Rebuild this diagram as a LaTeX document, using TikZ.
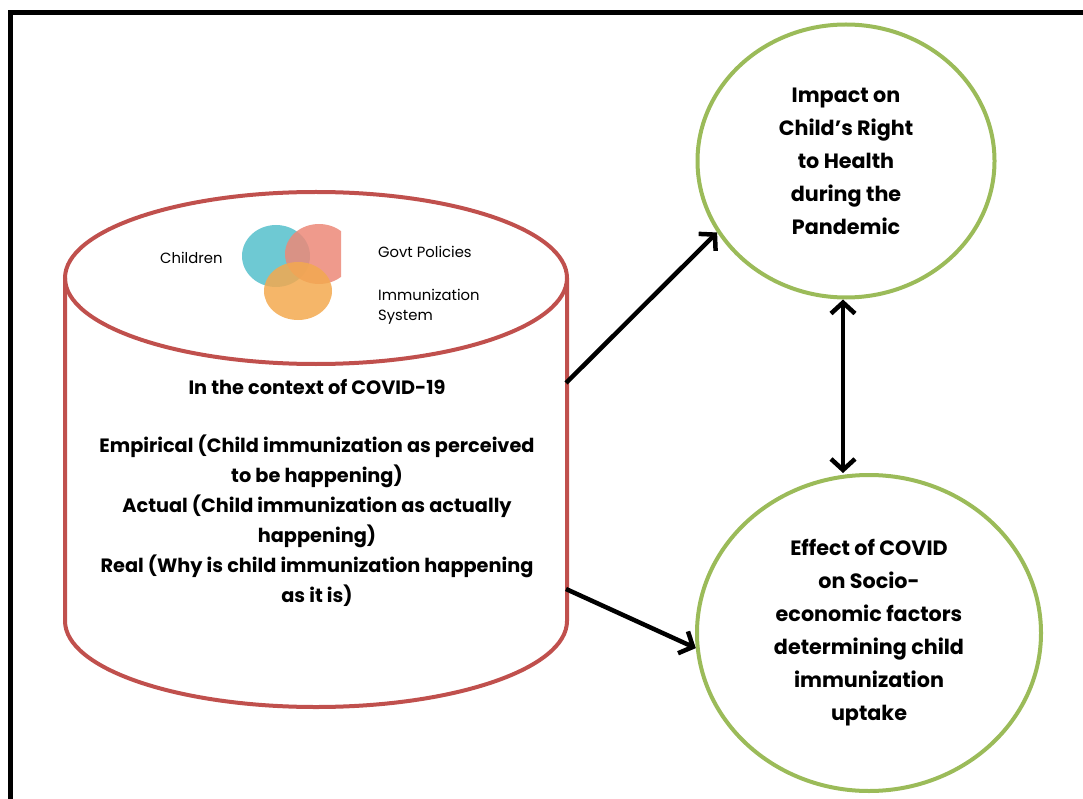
\documentclass[tikz,border=0pt]{standalone}
\usepackage{fontspec}
\setmainfont{Poppins}
\usetikzlibrary{arrows.meta,shapes.geometric}
\definecolor{cylred}{HTML}{C0504D}
\definecolor{ringgreen}{HTML}{9BBB59}
\definecolor{vteal}{HTML}{55BFCB}
\definecolor{vsalmon}{HTML}{EC8878}
\definecolor{vorange}{HTML}{F3A94F}
\tikzset{
  cylline/.style={draw=cylred, line width=4pt},
  ring/.style={ellipse, draw=ringgreen, line width=4pt, inner sep=0pt, align=center,
    font=\bfseries\fontsize{20.7}{33}\selectfont},
  arr/.style={line width=4.5pt, -{Straight Barb[length=11pt,width=24pt]}},
  dblarr/.style={line width=4.5pt, {Straight Barb[length=11pt,width=24pt]}-{Straight Barb[length=11pt,width=24pt]}},
  vennlabel/.style={anchor=west, inner sep=0pt, align=left,
    font=\fontsize{14.8}{20}\selectfont},
}
\begin{document}
\begin{tikzpicture}[x=1pt, y=-1pt]
\useasboundingbox (0,0) rectangle (1083,799);

% outer frame (open to the right and bottom)
\draw[line width=5pt, line join=miter] (10,799) -- (10,12.5) -- (1083,12.5);

% cylinder
\draw[cylline] (65,278) -- (65,621)
  arc[start angle=180, end angle=0, x radius=251, y radius=86] -- (567,278);
\draw[cylline] (316,278) ellipse [x radius=251, y radius=86];
\coordinate (cylA) at (566,383);
\coordinate (cylB) at (566,589);

% Venn diagram on the cylinder lid
\begin{scope}
  \clip (230,215) rectangle (341,330);
  \fill[vteal, opacity=0.85] (276,256) ellipse [x radius=34, y radius=31];
  \fill[vsalmon, opacity=0.85] (319,254) ellipse [x radius=34, y radius=30];
  \fill[vorange, opacity=0.85] (298,291) ellipse [x radius=34, y radius=29];
\end{scope}
\node[vennlabel] (lchild) at (160,258) {Children};
\node[vennlabel] (lgovt) at (378,252) {Govt Policies};
\node[vennlabel] (limm) at (378,307) {Immunization\\System};

% text inside the cylinder
\node[align=center, font=\bfseries\fontsize{19.3}{30}\selectfont] (ctx) at (317,493)
  {In the context of COVID-19\\[28pt]
   Empirical (Child immunization as perceived\\
   to be happening)\\
   Actual (Child immunization as actually\\
   happening)\\
   Real (Why is child immunization happening\\
   as it is)};

% outcome circles
\node[ring, minimum width=297pt, minimum height=273pt] (impact) at (846,161)
  {Impact on\\Child's Right\\to Health\\during the\\Pandemic};
\node[ring, minimum width=344pt, minimum height=316pt] (effect) at (869,633)
  {Effect of COVID\\on Socio-\\economic factors\\determining child\\immunization\\uptake};

% connectors
\coordinate (axis) at (843,0);
\draw[arr] (cylA) -- (impact.209);
\draw[arr] (cylB) -- (effect.185);
\draw[dblarr] (impact.south -| axis) -- (effect.north -| axis);
\end{tikzpicture}
\end{document}
